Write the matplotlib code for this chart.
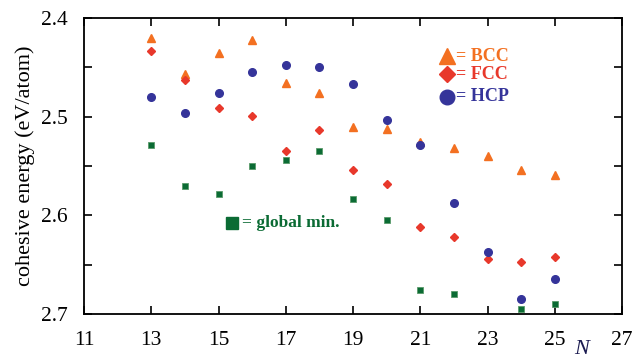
import matplotlib.pyplot as plt
import numpy as np

N = [13, 14, 15, 16, 17, 18, 19, 20, 21, 22, 23, 24, 25]
bcc = [2.420, 2.457, 2.435, 2.422, 2.466, 2.476, 2.510, 2.512, 2.526, 2.532, 2.540, 2.554, 2.559]
fcc = [2.433, 2.463, 2.491, 2.499, 2.535, 2.514, 2.554, 2.568, 2.612, 2.622, 2.644, 2.647, 2.642]
hcp = [2.480, 2.496, 2.476, 2.455, 2.448, 2.450, 2.467, 2.503, 2.529, 2.587, 2.637, 2.685, 2.665]
N_min = [13, 14, 15, 16, 17, 18, 19, 20, 21, 22, 24, 25]
gmin = [2.529, 2.570, 2.578, 2.550, 2.544, 2.535, 2.583, 2.605, 2.676, 2.680, 2.695, 2.690]

c_bcc = '#f37021'
c_fcc = '#e8382b'
c_hcp = '#35349a'
c_min = '#0b6b34'

plt.rcParams['font.family'] = 'Liberation Serif'

fig = plt.figure(figsize=(6.33, 3.59), dpi=100)
ax = fig.add_axes([0.1327, 0.1253, 0.85, 0.8246])

ax.plot(N, bcc, '^', color=c_bcc, markersize=6, linestyle='none')
ax.plot(N, fcc, 'D', color=c_fcc, markersize=4.5, linestyle='none')
ax.plot(N, hcp, 'o', color=c_hcp, markersize=5.5, linestyle='none')
ax.plot(N_min, gmin, 's', color=c_min, markersize=5, markeredgecolor='#5a9a6a',
        markeredgewidth=0.6, linestyle='none')

ax.set_xlim(11, 27)
ax.set_ylim(2.7, 2.4)
ax.set_xticks(np.arange(11, 28, 2))
ax.set_yticks(np.arange(2.4, 2.701, 0.05))
ax.set_yticklabels(['2.4', '', '2.5', '', '2.6', '', '2.7'])
ax.tick_params(direction='in', top=True, right=True, labelsize=15.5, length=6, width=1.2)
ax.tick_params(axis='y', pad=12)
ax.tick_params(axis='x', pad=12)
for s in ax.spines.values():
    s.set_linewidth(1.3)

ax.set_ylabel('cohesive energy (eV/atom)', fontsize=16, labelpad=4)
fig.text(582 / 633, 0.0, 'N', fontsize=16, style='italic', color='#1a1a50',
         ha='center', va='bottom')

# legend drawn as marker + text
legend = [('^', c_bcc, 2.439, '= BCC', 12),
          ('D', c_fcc, 2.457, '= FCC', 8),
          ('o', c_hcp, 2.480, '= HCP', 10.5)]
for m, c, y, t, ms in legend:
    ax.plot([21.8], [y], m, color=c, markersize=ms, clip_on=False)
    ax.text(22.05, y, t, color=c, fontsize=13, fontweight='bold', va='center', ha='left')
ax.plot([15.4], [2.608], 's', color=c_min, markersize=8.5)
ax.text(15.7, 2.608, '= global min.', color=c_min, fontsize=12.5, fontweight='bold',
        va='center', ha='left')

fig.savefig('out.png', dpi=100)
